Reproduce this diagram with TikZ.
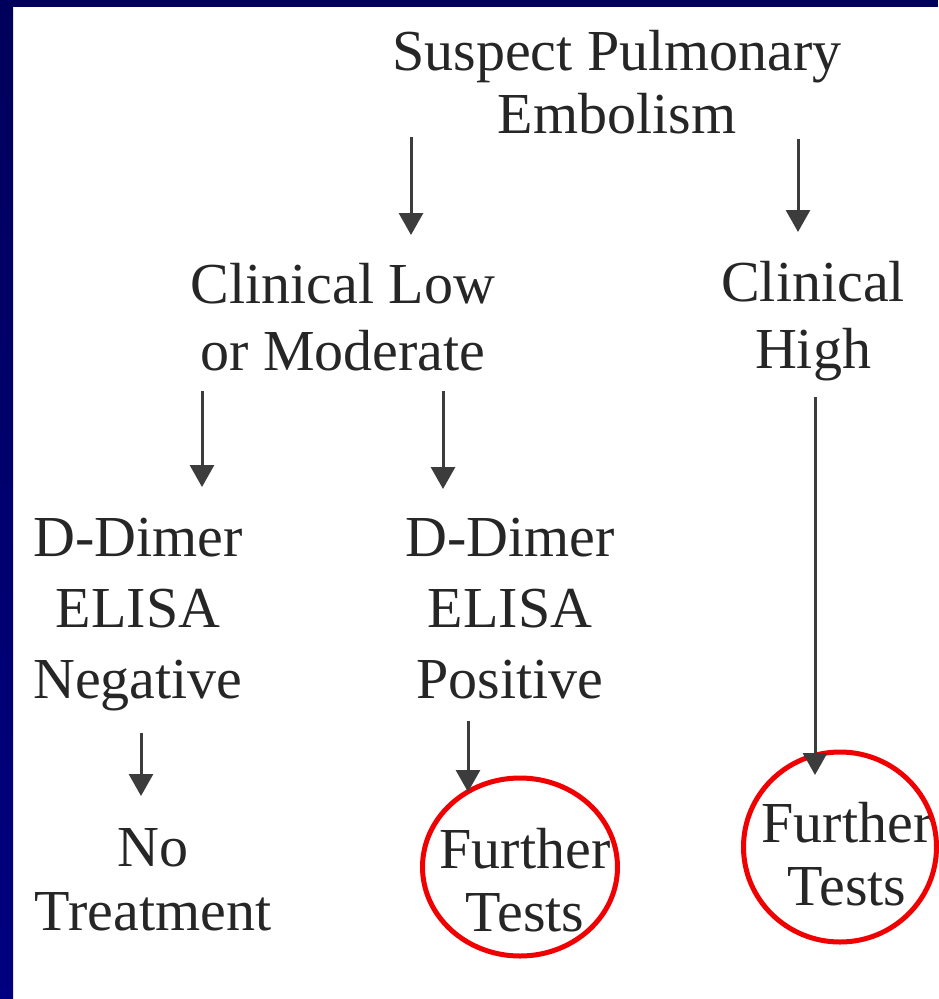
\documentclass[tikz,border=0pt]{standalone}
\usepackage{fontspec}
\setmainfont{Liberation Serif}
\usetikzlibrary{arrows.meta,shapes.geometric}
\definecolor{slide}{HTML}{000080}
\definecolor{slidedark}{HTML}{00005C}
\definecolor{ink}{HTML}{262626}
\definecolor{arrowink}{HTML}{3C3C3C}
\definecolor{ring}{HTML}{F00000}
\begin{document}
\begin{tikzpicture}[x=1pt,y=-1pt,
  lbl/.style={align=center,inner sep=0pt,anchor=north,text=ink},
  arr/.style={draw=arrowink,line width=3pt,
    -{Triangle[width=24pt,length=22pt]}},
  ringshape/.style={draw=ring,line width=5pt,ellipse,inner sep=0pt}]
\useasboundingbox (0,0) rectangle (938,999);
% slide frame: white page with a navy band along the top and left edges
\fill[white] (0,0) rectangle (938,999);
\shade[top color=slidedark,bottom color=slide] (0,0) rectangle (13,999);
\fill[slidedark] (0,0) rectangle (938,7);

% flowchart text
\node[lbl,font=\fontsize{58}{63}\selectfont] (susp) at (617,30)
  {Suspect Pulmonary\\Embolism};
\node[lbl,font=\fontsize{58}{67}\selectfont] (low) at (343,263)
  {Clinical Low\\or Moderate};
\node[lbl,font=\fontsize{58}{67}\selectfont] (high) at (813,261)
  {Clinical\\High};
\node[lbl,font=\fontsize{58}{71}\selectfont] (neg) at (138,518)
  {D-Dimer\\ELISA\\Negative};
\node[lbl,font=\fontsize{58}{71}\selectfont] (pos) at (510,518)
  {D-Dimer\\ELISA\\Positive};
\node[lbl,font=\fontsize{58}{64}\selectfont] (none) at (153,828)
  {No\\Treatment};
\node[lbl,font=\fontsize{58}{63}\selectfont] (test1) at (525,828)
  {Further\\Tests};
\node[lbl,font=\fontsize{58}{63}\selectfont] (test2) at (847,802)
  {Further\\Tests};

% red rings
\node[ringshape,minimum width=195pt,minimum height=178pt] (ring1) at (520,867) {};
\node[ringshape,minimum width=193pt,minimum height=190pt] (ring2) at (840,847) {};

% arrows
\draw[arr] ([xshift=-206pt,yshift=-3pt]susp.south) -- ([xshift=68pt,yshift=28pt]low.north);
\draw[arr] ([xshift=181pt,yshift=-5pt]susp.south) -- ([xshift=-15pt,yshift=29pt]high.north);
\draw[arr] ([xshift=-141pt,yshift=-20pt]low.south) -- ([xshift=64pt,yshift=31pt]neg.north);
\draw[arr] ([xshift=100pt,yshift=-20pt]low.south) -- ([xshift=-67pt,yshift=29pt]pos.north);
\draw[arr] ([xshift=2pt,yshift=-16pt]high.south) -- ([xshift=-32pt,yshift=27pt]test2.north);
\draw[arr] ([xshift=3pt,yshift=-22pt]neg.south) -- ([xshift=-12pt,yshift=32pt]none.north);
\draw[arr] ([xshift=-42pt,yshift=-22pt]pos.south) -- ([xshift=-57pt,yshift=36pt]test1.north);
\end{tikzpicture}
\end{document}
